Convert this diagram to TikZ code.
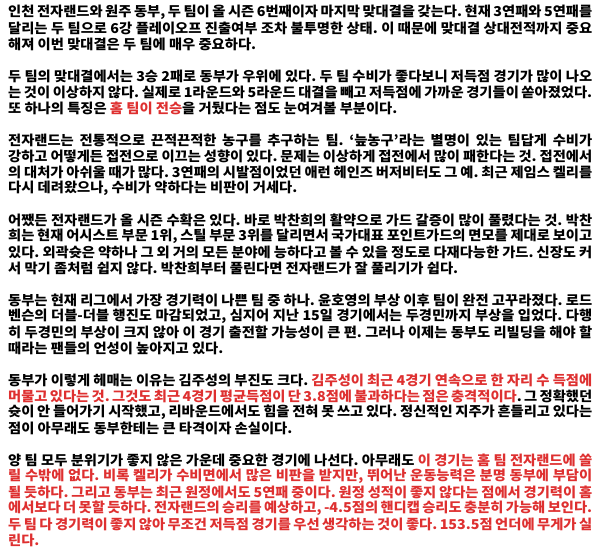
\documentclass[tikz,border=0pt]{standalone}
\usepackage{fontspec}
\setmainfont{Noto Sans CJK KR}[FakeStretch=1.05]
\usepackage{tikz}
\definecolor{hl}{RGB}{222,48,48}
\newcommand{\fullline}[1]{\hbox to 584bp{#1}}
\newcommand{\hot}[1]{\textcolor{hl}{#1}}
\frenchspacing

\begin{document}
\begin{tikzpicture}

	\tikzstyle{ln}=[anchor=west, inner sep=0pt, font=\fontsize{13.6bp}{16bp}\selectfont\bfseries]

	\useasboundingbox (0,0) rectangle (600bp,-549bp);

	% PARRAFO 1
	\node[ln] (p1a) at (8bp,-12bp) {\fullline{인천 전자랜드와 원주 동부, 두 팀이 올 시즌 6번째이자 마지막 맞대결을 갖는다. 현재 3연패와 5연패를}};
	\node[ln] (p1b) at (8bp,-28bp) {\fullline{달리는 두 팀으로 6강 플레이오프 진출여부 조차 불투명한 상태. 이 때문에 맞대결 상대전적까지 중요}};
	\node[ln] (p1c) at (8bp,-44bp) {해져 이번 맞대결은 두 팀에 매우 중요하다.};

	% PARRAFO 2
	\node[ln] (p2a) at (8bp,-76bp) {\fullline{두 팀의 맞대결에서는 3승 2패로 동부가 우위에 있다. 두 팀 수비가 좋다보니 저득점 경기가 많이 나오}};
	\node[ln] (p2b) at (8bp,-92bp) {\fullline{는 것이 이상하지 않다. 실제로 1라운드와 5라운드 대결을 빼고 저득점에 가까운 경기들이 쏟아졌었다.}};
	\node[ln] (p2c) at (8bp,-108bp) {또 하나의 특징은 \hot{홈 팀이 전승}을 거뒀다는 점도 눈여겨볼 부분이다.};

	% PARRAFO 3
	\node[ln] (p3a) at (8bp,-140bp) {\fullline{전자랜드는 전통적으로 끈적끈적한 농구를 추구하는 팀. ‘늪농구’라는 별명이 있는 팀답게 수비가}};
	\node[ln] (p3b) at (8bp,-156bp) {\fullline{강하고 어떻게든 접전으로 이끄는 성향이 있다. 문제는 이상하게 접전에서 많이 패한다는 것. 접전에서}};
	\node[ln] (p3c) at (8bp,-172bp) {\fullline{의 대처가 아쉬울 때가 많다. 3연패의 시발점이었던 애런 헤인즈 버저비터도 그 예. 최근 제임스 켈리를}};
	\node[ln] (p3d) at (8bp,-188bp) {다시 데려왔으나, 수비가 약하다는 비판이 거세다.};

	% PARRAFO 4
	\node[ln] (p4a) at (8bp,-220bp) {\fullline{어쨌든 전자랜드가 올 시즌 수확은 있다. 바로 박찬희의 활약으로 가드 갈증이 많이 풀렸다는 것. 박찬}};
	\node[ln] (p4b) at (8bp,-236bp) {\fullline{희는 현재 어시스트 부문 1위, 스틸 부문 3위를 달리면서 국가대표 포인트가드의 면모를 제대로 보이고}};
	\node[ln] (p4c) at (8bp,-252bp) {\fullline{있다. 외곽슛은 약하나 그 외 거의 모든 분야에 능하다고 볼 수 있을 정도로 다재다능한 가드. 신장도 커}};
	\node[ln] (p4d) at (8bp,-268bp) {서 막기 좀처럼 쉽지 않다. 박찬희부터 풀린다면 전자랜드가 잘 풀리기가 쉽다.};

	% PARRAFO 5
	\node[ln] (p5a) at (8bp,-300bp) {\fullline{동부는 현재 리그에서 가장 경기력이 나쁜 팀 중 하나. 윤호영의 부상 이후 팀이 완전 고꾸라졌다. 로드}};
	\node[ln] (p5b) at (8bp,-316bp) {\fullline{벤슨의 더블-더블 행진도 마감되었고, 심지어 지난 15일 경기에서는 두경민까지 부상을 입었다. 다행}};
	\node[ln] (p5c) at (8bp,-332bp) {\fullline{히 두경민의 부상이 크지 않아 이 경기 출전할 가능성이 큰 편. 그러나 이제는 동부도 리빌딩을 해야 할}};
	\node[ln] (p5d) at (8bp,-348bp) {때라는 팬들의 언성이 높아지고 있다.};

	% PARRAFO 6
	\node[ln] (p6a) at (8bp,-380bp) {\fullline{동부가 이렇게 헤매는 이유는 김주성의 부진도 크다. \hot{김주성이 최근 4경기 연속으로 한 자리 수 득점에}}};
	\node[ln] (p6b) at (8bp,-396bp) {\fullline{\hot{머물고 있다는 것. 그것도 최근 4경기 평균득점이 단 3.8점에 불과하다는 점은 충격적이다}. 그 정확했던}};
	\node[ln] (p6c) at (8bp,-412bp) {\fullline{슛이 안 들어가기 시작했고, 리바운드에서도 힘을 전혀 못 쓰고 있다. 정신적인 지주가 흔들리고 있다는}};
	\node[ln] (p6d) at (8bp,-428bp) {점이 아무래도 동부한테는 큰 타격이자 손실이다.};

	% PARRAFO 7
	\node[ln] (p7a) at (8bp,-460bp) {\fullline{양 팀 모두 분위기가 좋지 않은 가운데 중요한 경기에 나선다. 아무래도 \hot{이 경기는 홈 팀 전자랜드에 쏠}}};
	\node[ln] (p7b) at (8bp,-476bp) {\fullline{\color{hl}릴 수밖에 없다. 비록 켈리가 수비면에서 많은 비판을 받지만, 뛰어난 운동능력은 분명 동부에 부담이}};
	\node[ln] (p7c) at (8bp,-492bp) {\fullline{\color{hl}될 듯하다. 그리고 동부는 최근 원정에서도 5연패 중이다. 원정 성적이 좋지 않다는 점에서 경기력이 홈}};
	\node[ln] (p7d) at (8bp,-508bp) {\fullline{\color{hl}에서보다 더 못할 듯하다. 전자랜드의 승리를 예상하고, -4.5점의 핸디캡 승리도 충분히 가능해 보인다.}};
	\node[ln] (p7e) at (8bp,-524bp) {\fullline{\color{hl}두 팀 다 경기력이 좋지 않아 무조건 저득점 경기를 우선 생각하는 것이 좋다. 153.5점 언더에 무게가 실}};
	\node[ln] (p7f) at (8bp,-540bp) {\color{hl}린다.};

\end{tikzpicture}
\end{document}
